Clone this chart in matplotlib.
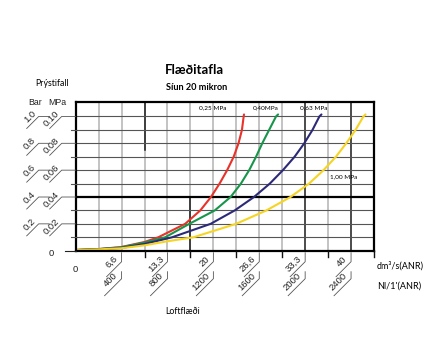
import numpy as np
import matplotlib
matplotlib.use("Agg")
import matplotlib.pyplot as plt
from matplotlib.lines import Line2D

# Flow curves (x: dm3/s, y: pressure drop MPa)
red_x = [0, 3.3, 6.6, 10.0, 12.0, 15.9, 18.1, 19.65, 20.9, 22.0, 22.95, 23.65, 24.15, 24.4, 24.45]
red_y = [0.0005, 0.0012, 0.0027, 0.0065, 0.01, 0.02, 0.03, 0.04, 0.05, 0.06, 0.07, 0.08, 0.09, 0.10, 0.1015]

green_x = [0, 3.3, 6.6, 10.0, 13.0, 16.5, 20.2, 22.5, 24.0, 25.2, 26.2, 27.1, 28.1, 29.1, 29.4]
green_y = [0.0005, 0.0012, 0.0025, 0.006, 0.01, 0.02, 0.03, 0.04, 0.05, 0.06, 0.07, 0.08, 0.09, 0.10, 0.1015]

navy_x = [0, 3.3, 6.6, 10.0, 14.0, 19.6, 23.1, 25.9, 28.2, 30.1, 31.8, 33.2, 34.4, 35.4, 35.7]
navy_y = [0.0005, 0.0011, 0.0020, 0.005, 0.01, 0.02, 0.03, 0.04, 0.05, 0.06, 0.07, 0.08, 0.09, 0.10, 0.1015]

yellow_x = [0, 3.3, 6.6, 10.0, 13.3, 17.1, 23.3, 27.7, 31.2, 33.9, 36.0, 37.8, 39.3, 40.65, 41.8, 42.1]
yellow_y = [0.0005, 0.0010, 0.0018, 0.004, 0.007, 0.01, 0.02, 0.03, 0.04, 0.05, 0.06, 0.07, 0.08, 0.09, 0.10, 0.1015]

curve_labels = ["0,25 MPa", "0,40MPa", "0,63 MPa", "1,00 MPa"]
label_pos = [(17.9, 0.1065), (25.7, 0.1065), (32.6, 0.1065), (37.0, 0.055)]

# axis ticks
mpa_ticks = [0.02, 0.04, 0.06, 0.08, 0.10]
mpa_labels = ["0.02", "0.04", "0.06", "0.08", "0.10"]
bar_labels = ["0.2", "0.4", "0.6", "0.8", "1.0"]
flow_ticks = [6.667, 13.333, 20.0, 26.667, 33.333, 40.0]
flow_labels = ["6,6", "13,3", "20", "26,6", "33,3", "40"]
nl_labels = ["400", "800", "1200", "1600", "2000", "2400"]

x_max = 43.333
y_max = 0.111
cell = 3.3333

fig = plt.figure(figsize=(4.43, 3.43), dpi=100)
W, H = 443, 343
ax = fig.add_axes([75.7 / W, (H - 250.7) / H, (374 - 75.7) / W, (250.7 - 101.7) / H])
ax.set_xlim(0, x_max)
ax.set_ylim(0, y_max)
ax.set_xticks([])
ax.set_yticks([])
for s in ax.spines.values():
    s.set_linewidth(1.6)
    s.set_color('black')
    s.set_zorder(5)

# grid
for i in range(1, 13):
    xv = i * cell
    col = '#1a1a1a' if i in (10, 12) else '#b3b3b3'
    ax.axvline(xv, color=col, lw=1.1, zorder=1)
ax.plot([3 * cell, 3 * cell], [0.075, y_max], color='#1a1a1a', lw=1.1, zorder=1)
ax.plot([5 * cell, 5 * cell], [0, 0.04], color='#1a1a1a', lw=1.1, zorder=1)
for j in range(1, 11):
    yv = j * 0.01
    if j == 4:
        ax.axhline(yv, color='black', lw=1.6, zorder=2)
    else:
        ax.axhline(yv, color='#555555', lw=0.8, zorder=1)

# curves
ax.plot(red_x, red_y, color='#e8322a', lw=1.5, zorder=3, solid_capstyle='round', solid_joinstyle='round')
ax.plot(green_x, green_y, color='#17954a', lw=1.5, zorder=3, solid_capstyle='round', solid_joinstyle='round')
ax.plot(navy_x, navy_y, color='#2c2a78', lw=1.5, zorder=3, solid_capstyle='round', solid_joinstyle='round')
ax.plot(yellow_x, yellow_y, color='#f6d422', lw=1.5, zorder=3, solid_capstyle='round', solid_joinstyle='round')

for lab, (lx, ly) in zip(curve_labels, label_pos):
    ax.text(lx, ly, lab, fontsize=4.6, family='Lato', va='center', ha='left', zorder=4)

tick_font = dict(family='Liberation Sans', fontsize=6.8, color='#222222')


def leader(x0, y0, offs, lw=0.6, color='#555555'):
    px, py = ax.transData.transform((x0, y0))
    pts = [(px + dx, py + dy) for dx, dy in offs]
    fp = fig.transFigure.inverted().transform(pts)
    fig.add_artist(Line2D(fp[:, 0], fp[:, 1], transform=fig.transFigure,
                          color=color, lw=lw, clip_on=False))


# left axis: Bar and MPa labels with slanted leaders
for v, ml, bl in zip(mpa_ticks, mpa_labels, bar_labels):
    leader(0, v, [(0, 0), (-14, 0), (-26, -12)])
    leader(0, v, [(-27, 0), (-37, 0), (-49, -12)])
    ax.annotate(ml, xy=(0, v), xytext=(-15, 1), textcoords='offset pixels',
                rotation=45, rotation_mode='anchor', ha='right', va='bottom',
                annotation_clip=False, **tick_font)
    ax.annotate(bl, xy=(0, v), xytext=(-38, 1), textcoords='offset pixels',
                rotation=45, rotation_mode='anchor', ha='right', va='bottom',
                annotation_clip=False, **tick_font)
for j in range(1, 11, 2):
    leader(0, j * 0.01, [(0, 0), (-5, 0)], lw=0.8, color='#555555')
leader(0, 0, [(0, 0), (-11, 0)], lw=0.8, color='#222222')
ax.annotate("0", xy=(0, 0), xytext=(-24, -3), textcoords='offset pixels',
            ha='center', va='center', annotation_clip=False, **tick_font)

# bottom axis: dm3/s and Nl/min labels
for v, fl, nl in zip(flow_ticks, flow_labels, nl_labels):
    leader(v, 0, [(0, -2), (0, -11), (-15, -26)])
    leader(v, 0, [(0, -21), (0, -28), (-17, -45)])
    ax.annotate(fl, xy=(v, 0), xytext=(-2, -10), textcoords='offset pixels',
                rotation=45, rotation_mode='anchor', ha='right', va='bottom',
                annotation_clip=False, **tick_font)
    ax.annotate(nl, xy=(v, 0), xytext=(-2, -27), textcoords='offset pixels',
                rotation=45, rotation_mode='anchor', ha='right', va='bottom',
                annotation_clip=False, **tick_font)
for i in range(3, 14, 2):
    leader(i * cell, 0, [(0, 0), (0, -6)], lw=1.0, color='#111111')
ax.annotate("0", xy=(0, 0), xytext=(0, -19), textcoords='offset pixels',
            ha='center', va='center', annotation_clip=False, **tick_font)

# titles and axis captions
fig.text(165 / W, 1 - 70 / H, "Flæðitafla", family='Lato', fontweight='bold',
         fontsize=9.5, ha='left', va='center')
fig.text(166 / W, 1 - 87 / H, "Síun 20 mikron", family='Lato', fontweight='bold',
         fontsize=6.6, ha='left', va='center')
fig.text(35 / W, 1 - 84 / H, "Prýstifall", family='Lato', fontsize=6.3,
         ha='left', va='center')
fig.text(28 / W, 1 - 102 / H, "Bar", family='Liberation Sans', fontsize=6.3,
         ha='left', va='center', color='#222222')
fig.text(48 / W, 1 - 102 / H, "MPa", family='Liberation Sans', fontsize=6.3,
         ha='left', va='center', color='#222222')
fig.text(377 / W, 1 - 266 / H, "dm³/s(ANR)", family='Lato', fontsize=6.5,
         ha='left', va='center')
fig.text(377 / W, 1 - 286 / H, "Nl/1'(ANR)", family='Lato', fontsize=6.5,
         ha='left', va='center')
fig.text(165 / W, 1 - 311 / H, "Loftflæði", family='Lato', fontsize=6.3,
         ha='left', va='center')

fig.savefig("out.png", dpi=100, facecolor='white')
